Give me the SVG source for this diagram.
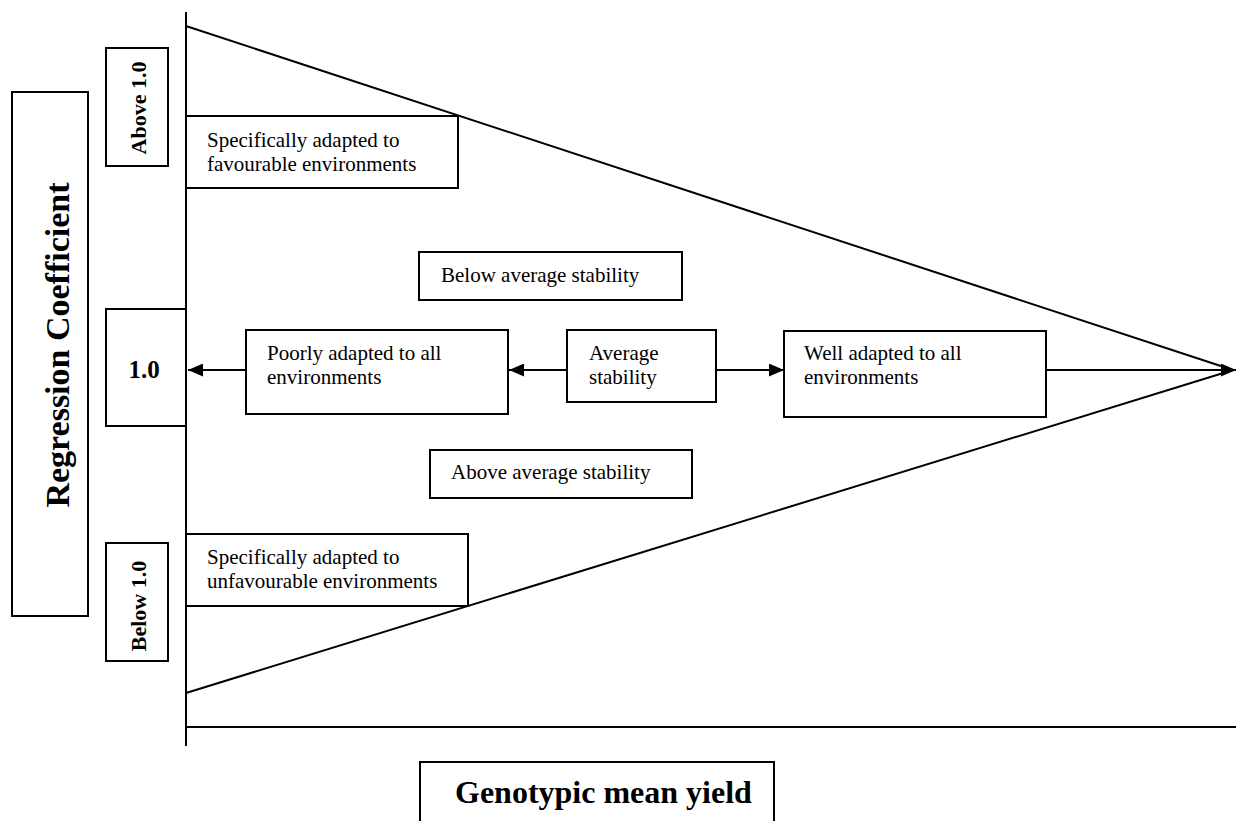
<svg xmlns="http://www.w3.org/2000/svg" width="1238" height="821" viewBox="0 0 1238 821">
<style>
.box{fill:#fff;stroke:#000;stroke-width:2}
.ln{stroke:#000;stroke-width:2;fill:none}
.t{font-family:"Liberation Serif","Times New Roman",serif;font-size:21px;fill:#000}
.b{font-family:"Liberation Serif","Times New Roman",serif;font-weight:bold;fill:#000}
</style>
<defs>
<marker id="ah" viewBox="0 0 10 10" refX="10" refY="5" markerWidth="15" markerHeight="13" markerUnits="userSpaceOnUse" orient="auto" preserveAspectRatio="none">
<path d="M0,0 L10,5 L0,10 Z" fill="#000"/>
</marker>
</defs>
<rect width="1238" height="821" fill="#fff"/>
<g id="axes">
<line class="ln" x1="186" y1="12" x2="186" y2="746"/>
<line class="ln" x1="186" y1="727" x2="1236" y2="727"/>
<line class="ln" x1="186" y1="26" x2="1233" y2="370"/>
<line class="ln" x1="186" y1="693" x2="1233" y2="370"/>
</g>
<g id="connectors">
<line class="ln" x1="246" y1="370" x2="188" y2="370" marker-end="url(#ah)"/>
<line class="ln" x1="567" y1="370" x2="509" y2="370" marker-end="url(#ah)"/>
<line class="ln" x1="716" y1="370" x2="784" y2="370" marker-end="url(#ah)"/>
<line class="ln" x1="1046" y1="370" x2="1236" y2="370" marker-end="url(#ah)"/>
</g>
<g id="regression">
<rect class="box" x="12" y="92" width="76" height="524"/>
<text class="b" font-size="34" text-anchor="middle" transform="translate(69,345) rotate(-90)">Regression  Coefficient</text>
</g>
<g id="above10">
<rect class="box" x="106" y="48" width="62" height="118"/>
<text class="b" font-size="22" text-anchor="middle" transform="translate(146,108) rotate(-90)">Above  1.0</text>
</g>
<g id="one">
<rect class="box" x="106" y="309" width="80" height="117"/>
<text class="b" font-size="25" x="144" y="378" text-anchor="middle">1.0</text>
</g>
<g id="below10">
<rect class="box" x="106" y="543" width="62" height="118"/>
<text class="b" font-size="22" text-anchor="middle" transform="translate(146,606) rotate(-90)">Below 1.0</text>
</g>
<g id="favourable">
<rect class="box" x="186" y="116" width="272" height="72"/>
<text class="t" x="207" y="147">Specifically adapted to</text>
<text class="t" x="207" y="171">favourable environments</text>
</g>
<g id="below-avg">
<rect class="box" x="419" y="252" width="263" height="48"/>
<text class="t" x="441" y="282">Below average stability</text>
</g>
<g id="poorly">
<rect class="box" x="246" y="330" width="262" height="84"/>
<text class="t" x="267" y="360">Poorly adapted to  all</text>
<text class="t" x="267" y="384">environments</text>
</g>
<g id="average">
<rect class="box" x="567" y="330" width="149" height="72"/>
<text class="t" x="589" y="360">Average</text>
<text class="t" x="589" y="384">stability</text>
</g>
<g id="well">
<rect class="box" x="784" y="331" width="262" height="86"/>
<text class="t" x="804" y="360">Well adapted to  all</text>
<text class="t" x="804" y="384">environments</text>
</g>
<g id="above-avg">
<rect class="box" x="430" y="450" width="262" height="48"/>
<text class="t" x="451" y="479">Above average stability</text>
</g>
<g id="unfavourable">
<rect class="box" x="186" y="534" width="282" height="72"/>
<text class="t" x="207" y="564">Specifically adapted to</text>
<text class="t" x="207" y="588">unfavourable environments</text>
</g>
<g id="genotypic">
<rect class="box" x="420" y="762" width="354" height="70"/>
<text class="b" font-size="32" x="455" y="803">Genotypic mean yield</text>
</g>
</svg>
